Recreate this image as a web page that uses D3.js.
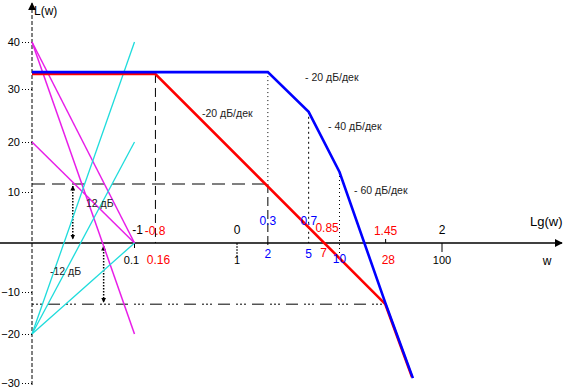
<!DOCTYPE html>
<html><head><meta charset="utf-8">
<script src="https://cdn.jsdelivr.net/npm/d3@7"></script>
<style>
body{margin:0;background:#fff}
svg{display:block;font-family:"Liberation Sans",Arial,sans-serif}
</style></head><body>
<svg id="c" width="565" height="391"></svg>
<script>
// ---- data ----
const yTicks = [40, 30, 20, 10, -10, -20, -30];
const blueW = [0.01, 2, 5, 10, 28, 52];
const blueL = [33.6, 33.6, 25.7, 14, -12.6, -29];
const redW = [0.01, 0.16, 28, 51];
const redL = [33.2, 33.2, -12.9, -28.8];
const magentaLines = [[[0.01, 40], [0.1, -20]], [[0.01, 40], [0.1, 0]], [[0.01, 20], [0.1, 0]]];
const cyanLines = [[[0.01, -20], [0.1, 0]], [[0.01, -20], [0.1, 20]], [[0.01, -20], [0.1, 40]]];
const lgBlack = ["-1", "0", "2"];
const lgRed = ["-0.8", "0.85", "1.45"];
const lgBlue = ["0.3", "0.7"];
const wBlack = ["0.1", "1", "100"];
const wRed = ["0.16", "7", "28"];
const wBlue = ["2", "5", "10"];
const marginPlus = 11.6, marginMinus = -12.9;
const slopeLabels = ["- 20 дБ/дек", "- 40 дБ/дек", "- 60 дБ/дек", "-20 дБ/дек"];

// ---- scales ----
const svg = d3.select("#c");
const x = d3.scaleLog().domain([0.01, 1000]).range([32, 544.5]);
const lgx = v => x(Math.pow(10, +v));
const y = d3.scaleLinear().domain([40, 30, 20, 10, 0, -10, -20, -30])
  .range([42, 89, 142, 192, 243, 292, 334, 383]);
const BLUE = "#0000ff", RED = "#ff0000", MAG = "#e81ee8", CY = "#1edcdc";
const line = d3.line().x(d => x(d[0])).y(d => y(d[1]));

const defs = svg.append("defs");
function mk(id, size) {
  defs.append("marker").attr("id", id).attr("viewBox", "0 0 10 10")
    .attr("refX", 9).attr("refY", 5).attr("markerWidth", size).attr("markerHeight", size)
    .attr("markerUnits", "userSpaceOnUse").attr("orient", "auto-start-reverse")
    .append("path").attr("d", "M0,0L10,5L0,10z").attr("fill", "#000");
}
mk("arr", 8); mk("sm", 5);

// ---- axes ----
const x0 = y(0);
svg.append("line").attr("x1", 0).attr("x2", 562).attr("y1", x0).attr("y2", x0)
  .attr("stroke", "#000").attr("stroke-width", 1.5).attr("marker-end", "url(#arr)");
svg.append("line").attr("x1", x(0.01)).attr("x2", x(0.01)).attr("y1", 385).attr("y2", 3)
  .attr("stroke", "#000").attr("stroke-width", 1).attr("stroke-dasharray", "4,2")
  .attr("marker-end", "url(#arr)");

const yAx = svg.append("g").attr("transform", `translate(${x(0.01)},0)`)
  .call(d3.axisLeft(y).tickValues(yTicks).tickSize(10).tickPadding(2).tickSizeOuter(0));
yAx.select(".domain").remove();
yAx.selectAll(".tick line").attr("stroke-dasharray", "1,2").attr("stroke", "#000");
yAx.selectAll(".tick text").attr("font-size", 11).attr("fill", "#000")
  .attr("font-family", "Liberation Sans, Arial, sans-serif");

// small ticks on x axis
svg.append("line").attr("x1", lgx(-1)).attr("x2", lgx(-1)).attr("y1", x0).attr("y2", x0 + 5).attr("stroke", "#000");
svg.append("line").attr("x1", lgx(0)).attr("x2", lgx(0)).attr("y1", x0).attr("y2", x0 + 14).attr("stroke", "#000").attr("stroke-dasharray", "2,1");
svg.append("line").attr("x1", lgx(1.45)).attr("x2", lgx(1.45)).attr("y1", x0 - 4).attr("y2", x0).attr("stroke", "#000");
svg.append("line").attr("x1", lgx(2)).attr("x2", lgx(2)).attr("y1", x0).attr("y2", x0 + 9).attr("stroke", "#000");

// ---- guides ----
const g = svg.append("g").attr("fill", "none").attr("stroke", "#000").attr("stroke-width", 1);
g.append("line").attr("x1", x(0.16)).attr("x2", x(0.16)).attr("y1", y(redL[1])).attr("y2", x0).attr("stroke-dasharray", "9,5");
g.append("line").attr("x1", x(2)).attr("x2", x(2)).attr("y1", y(blueL[1])).attr("y2", y(marginPlus)).attr("stroke-dasharray", "1,3");
g.append("line").attr("x1", x(2)).attr("x2", x(2)).attr("y1", y(marginPlus)).attr("y2", x0 + 4).attr("stroke-dasharray", "9,4");
g.append("line").attr("x1", x(5)).attr("x2", x(5)).attr("y1", y(blueL[2])).attr("y2", x0).attr("stroke-dasharray", "2,3");
g.append("line").attr("x1", x(10)).attr("x2", x(10)).attr("y1", y(blueL[3])).attr("y2", x0 + 12).attr("stroke-dasharray", "1,3");
g.append("line").attr("x1", x(0.01)).attr("x2", x(2)).attr("y1", y(marginPlus)).attr("y2", y(marginPlus)).attr("stroke-dasharray", "13,7");
g.append("line").attr("x1", x(0.01)).attr("x2", x(28)).attr("y1", y(marginMinus)).attr("y2", y(marginMinus)).attr("stroke-dasharray", "2,2,2,2,2,6,12,6");
g.append("line").attr("x1", x(0.025)).attr("x2", x(0.025)).attr("y1", y(marginPlus) + 2).attr("y2", x0 - 4)
  .attr("stroke-width", 1.5).attr("stroke-dasharray", "1.5,1.5").attr("marker-start", "url(#sm)").attr("marker-end", "url(#sm)");
g.append("line").attr("x1", x(0.05)).attr("x2", x(0.05)).attr("y1", x0 + 3).attr("y2", y(marginMinus) - 2)
  .attr("stroke-width", 1.5).attr("stroke-dasharray", "1.5,1.5").attr("marker-start", "url(#sm)").attr("marker-end", "url(#sm)");

// ---- asymptote fans ----
magentaLines.forEach(l => svg.append("path").attr("d", line(l)).attr("fill", "none").attr("stroke", MAG).attr("stroke-width", 1.5));
cyanLines.forEach(l => svg.append("path").attr("d", line(l)).attr("fill", "none").attr("stroke", CY).attr("stroke-width", 1.3));

// ---- main curves ----
svg.append("path").attr("d", line(redW.map((w, i) => [w, redL[i]]))).attr("fill", "none").attr("stroke", RED).attr("stroke-width", 2.6);
svg.append("path").attr("d", line(blueW.map((w, i) => [w, blueL[i]]))).attr("fill", "none").attr("stroke", BLUE).attr("stroke-width", 2.6);

// ---- labels ----
const T = (t, px, py, opt = {}) => svg.append("text").attr("x", px).attr("y", py).text(t)
  .attr("font-size", opt.size || 11).attr("fill", opt.fill || "#000").attr("text-anchor", opt.anchor || "middle");

lgBlack.forEach(v => T(v, lgx(v) + (v === "-1" ? 3 : 0), 234, { size: 12 }));
lgRed.forEach(v => T(v, lgx(v) + (v === "0.85" ? 3 : 0), v === "0.85" ? 232 : 235, { fill: RED, size: 12 }));
lgBlue.forEach(v => T(v, lgx(v), 225, { fill: BLUE, size: 12 }));
wBlack.forEach(v => T(v, x(+v) - (v === "0.1" ? 3 : 0), 264, { size: 11 }));
wRed.forEach(v => T(v, x(+v) + (v === "7" ? 0 : 3), v === "7" ? 257 : 264, { fill: RED, size: 12 }));
wBlue.forEach(v => T(v, x(+v), v === "10" ? 263 : 258, { fill: BLUE, size: 12 }));

T("L(w)", 34, 15, { size: 12, anchor: "start" });
T("Lg(w)", 530, 226, { size: 13, anchor: "start" });
T("w", 547, 265, { size: 12, anchor: "middle" });

T(slopeLabels[0], 305, 81, { size: 10.5, anchor: "start", fill: "#222" });
T(slopeLabels[1], 328, 130, { size: 10.5, anchor: "start", fill: "#222" });
T(slopeLabels[2], 354, 194, { size: 10.5, anchor: "start", fill: "#222" });
T(slopeLabels[3], 202, 117, { size: 10.5, anchor: "start", fill: "#222" });
T("12 дБ", 86, 207, { size: 10.5, anchor: "start", fill: "#222" });
T("-12 дБ", 50, 275, { size: 10.5, anchor: "start", fill: "#222" });
</script>
</body></html>
